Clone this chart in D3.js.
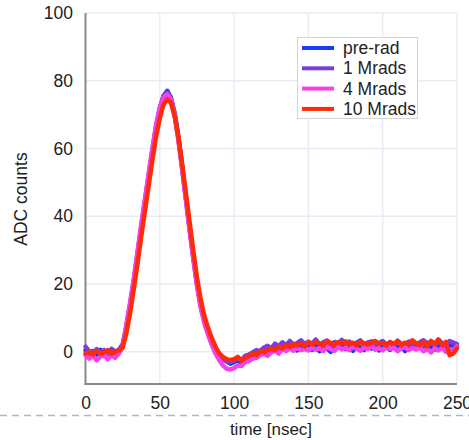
<!DOCTYPE html>
<html><head><meta charset="utf-8">
<script src="https://cdn.jsdelivr.net/npm/d3@7"></script>
<style>body{margin:0;background:#fff}svg{display:block}text{font-family:"Liberation Sans",Arial,Helvetica,sans-serif;fill:#222}</style>
</head><body><svg id="c" width="469" height="440"></svg>
<script>
const time = [0,2.5,5,7.5,10,12.5,15,17.5,20,22.5,25,27.5,30,32.5,35,37.5,40,42.5,45,47.5,50,52.5,55,57.5,60,62.5,65,67.5,70,72.5,75,77.5,80,82.5,85,87.5,90,92.5,95,97.5,100,102.5,105,107.5,110,112.5,115,117.5,120,122.5,125,127.5,130,132.5,135,137.5,140,142.5,145,147.5,150,152.5,155,157.5,160,162.5,165,167.5,170,172.5,175,177.5,180,182.5,185,187.5,190,192.5,195,197.5,200,202.5,205,207.5,210,212.5,215,217.5,220,222.5,225,227.5,230,232.5,235,237.5,240,242.5,245,247.5,250];
const preRad = [
0.5,-1.0,0.2,-0.8,0.6,-1.2,-0.3,0.4,-1.5,-0.2,
1.8,7.0,13.5,20.5,28.5,36.5,44.0,51.5,59.0,66.0,
71.5,75.5,77.0,75.0,70.5,63.5,55.0,46.0,37.0,28.5,
20.5,14.0,9.5,6.0,3.0,1.0,-0.5,-2.0,-2.8,-3.5,
-3.0,-2.5,-3.2,-1.8,-2.0,-0.8,-1.2,0.2,-0.5,0.8,
0.3,1.2,0.6,1.8,0.9,2.2,1.0,0.4,2.0,1.3,
2.5,0.6,1.8,0.2,2.4,1.1,0.0,1.9,1.4,2.6,
0.8,1.7,0.3,2.1,1.2,0.5,2.3,1.0,1.8,0.4,
2.0,1.3,0.6,2.4,1.1,1.9,0.2,1.5,2.2,0.9,
1.6,0.3,2.7,1.2,0.6,2.0,1.4,0.1,2.5,1.0,
1.8];
const mrad1 = [
1.5,0.2,-0.5,0.8,-0.2,0.5,-1.0,0.9,0.1,0.6,
2.2,7.5,14.0,21.0,29.0,37.0,44.5,52.0,59.5,66.5,
72.0,75.5,76.5,74.5,70.0,63.0,54.5,45.5,36.5,28.0,
20.0,13.5,9.0,5.5,2.5,0.5,-1.0,-2.2,-2.8,-3.0,
-2.6,-2.0,-2.4,-1.2,-0.8,-0.2,0.5,0.2,1.2,1.8,
1.0,2.4,1.6,2.8,1.9,3.2,2.0,2.6,3.4,2.2,
3.0,2.4,3.6,2.1,2.8,3.3,1.8,2.9,2.5,3.5,
2.2,3.0,1.9,2.7,3.4,2.0,2.8,3.1,1.7,2.6,
3.2,2.1,2.9,1.8,3.3,2.4,2.0,3.0,2.5,1.9,
2.8,3.4,2.2,2.9,1.6,3.6,2.5,2.0,3.2,2.7,
2.3];
const mrad4 = [
-1.0,-2.0,-1.2,-2.5,-1.5,-0.8,-2.2,-1.0,-1.8,-0.5,
1.5,7.8,14.5,21.5,29.5,37.5,45.0,52.5,60.0,67.0,
72.0,75.0,76.0,74.5,70.0,62.5,54.0,45.0,36.0,27.5,
19.5,13.0,8.5,5.0,2.0,-0.5,-2.5,-4.0,-5.0,-5.2,
-4.8,-4.0,-4.2,-3.0,-2.8,-2.0,-1.8,-1.0,-0.6,-1.2,
-0.2,0.4,-0.5,0.8,0.2,1.0,0.3,1.2,0.5,0.9,
0.4,1.3,0.6,1.1,0.2,1.5,0.8,0.3,1.4,0.7,
1.2,0.5,1.6,0.9,0.3,1.3,0.8,1.8,0.6,1.1,
0.4,1.5,0.9,1.2,0.2,1.0,1.4,0.5,1.1,0.7,
1.3,0.2,0.9,-0.2,1.0,0.4,1.2,0.1,0.8,0.5,
1.6];
const mrad10 = [
-0.5,0.0,-0.8,0.3,-0.5,-0.2,0.5,-0.6,0.2,0.4,
1.2,5.5,11.5,18.5,26.0,34.0,41.5,49.0,56.5,63.5,
69.0,73.0,74.5,73.5,69.5,63.5,55.5,47.0,38.5,30.0,
22.0,15.5,10.5,7.0,4.0,1.5,-0.5,-1.5,-2.2,-2.5,
-2.2,-1.5,-2.6,-1.8,-1.2,-0.5,-1.0,0.2,-0.2,0.6,
1.0,0.5,1.5,1.0,2.0,1.4,2.4,1.8,2.6,1.6,
2.8,2.2,3.0,2.4,1.8,3.2,2.6,2.0,2.9,2.4,
3.1,2.2,2.7,1.9,3.0,2.5,2.1,2.8,3.2,2.3,
2.6,1.9,2.9,2.4,3.1,2.0,2.7,2.2,3.4,2.5,
2.0,2.8,1.6,3.2,2.4,3.6,2.0,2.9,-1.0,-0.5,
1.0];
const seriesNames = ["pre-rad","1 Mrads","4 Mrads","10 Mrads"];
const seriesColors = ["#1a3af5","#7a3ee0","#f542e6","#ff2a0a"];
const seriesValues = [preRad, mrad1, mrad4, mrad10];
const xTicks = [0,50,100,150,200,250];
const yTicks = [0,20,40,60,80,100];

const svg = d3.select("#c");
const x = d3.scaleLinear().domain([0,250]).range([85.5,457]);
const y = d3.scaleLinear().domain([-9.5,100]).range([384,13]);

// grid
svg.append("g").selectAll("line").data(yTicks).join("line")
  .attr("x1",x(0)).attr("x2",x(250)).attr("y1",d=>y(d)).attr("y2",d=>y(d))
  .attr("stroke","#ebebf6").attr("stroke-width",1.5);
svg.append("g").selectAll("line").data(xTicks.slice(1)).join("line")
  .attr("x1",d=>x(d)).attr("x2",d=>x(d)).attr("y1",y(100)).attr("y2",y(-9.5))
  .attr("stroke","#ebebf6").attr("stroke-width",1.5);

// axes
const yAxis = d3.axisLeft(y).tickValues(yTicks).tickSize(0).tickPadding(12.5);
const gy = svg.append("g").attr("transform",`translate(${x(0)},0)`).call(yAxis);
gy.select(".domain").remove();
gy.selectAll("text").style("font-size","17.5px").attr("fill","#222");
const xAxis = d3.axisBottom(x).tickValues(xTicks).tickSize(0).tickPadding(13);
const gx = svg.append("g").attr("transform",`translate(0,${y(-9.5)})`).call(xAxis);
gx.select(".domain").remove();
gx.selectAll("text").style("font-size","17.5px").attr("fill","#222");

svg.append("line").attr("x1",x(0)).attr("x2",x(0)).attr("y1",y(100)).attr("y2",y(-9.5)+1)
  .attr("stroke","#8a8a8a").attr("stroke-width",2);
svg.append("line").attr("x1",x(0)-1).attr("x2",x(250)).attr("y1",y(-9.5)).attr("y2",y(-9.5))
  .attr("stroke","#8a8a8a").attr("stroke-width",2);

// lines
const line = d3.line().x((d,i)=>x(time[i])).y(d=>y(d));
seriesValues.forEach((vals,k)=>{
  svg.append("path").datum(vals).attr("d",line)
    .attr("fill","none").attr("stroke",seriesColors[k]).attr("stroke-width",4.5)
    .attr("stroke-linejoin","round").attr("stroke-linecap","round");
});

// dashed separator
svg.append("line").attr("x1",0).attr("x2",469).attr("y1",415.5).attr("y2",415.5)
  .attr("stroke","#a3bccf").attr("stroke-width",1.5).attr("stroke-dasharray","7,5");

// axis titles
svg.append("text").attr("x",271).attr("y",435).attr("text-anchor","middle")
  .style("font-size","17px").text("time [nsec]");
svg.append("text").attr("transform","translate(27,199) rotate(-90)").attr("text-anchor","middle")
  .style("font-size","17.5px").text("ADC counts");

// legend
const lg = svg.append("g");
lg.append("rect").attr("x",297.5).attr("y",37.5).attr("width",120).attr("height",81)
  .attr("fill","#fff").attr("stroke","#d4d4d4").attr("stroke-width",1);
seriesNames.forEach((n,k)=>{
  const yy = 48 + k*20.3;
  lg.append("line").attr("x1",302).attr("x2",334).attr("y1",yy).attr("y2",yy)
    .attr("stroke",seriesColors[k]).attr("stroke-width",4);
  lg.append("text").attr("x",343).attr("y",yy+6).style("font-size","17.5px").text(n);
});
</script></body></html>
